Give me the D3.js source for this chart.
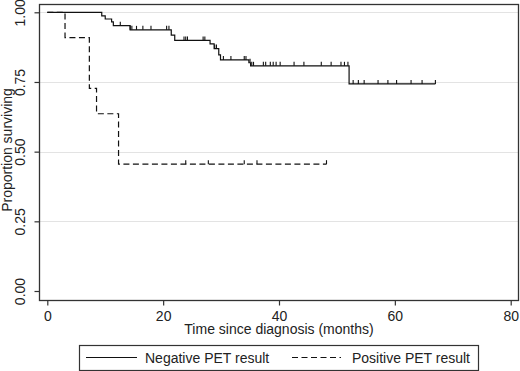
<!DOCTYPE html>
<html>
<head>
<meta charset="utf-8">
<script src="https://cdn.jsdelivr.net/npm/d3@7"></script>
<style>
  body { margin: 0; background: #fff; }
  text { font-family: "Liberation Sans", Arial, sans-serif; fill: #222; }
</style>
</head>
<body>
<div id="km"></div>
<script>
// Kaplan-Meier curves, values
var negTimes = [0, 9.4, 10.0, 11.1, 11.4, 14.3, 21.4, 22.0, 28.1, 28.8, 29.6, 29.9, 34.8, 35.1, 52.1]
var negSurv  = [1.0, 0.987, 0.976, 0.966, 0.952, 0.937, 0.918, 0.899, 0.887, 0.870, 0.847, 0.829, 0.819, 0.808, 0.743]
var negEnd = 67.0
var negCensor = [12.6, 14.3, 14.6, 15.4, 16.5, 17.9, 20.6, 21.0, 23.6, 23.9, 24.2, 26.9, 27.2, 28.9, 29.2,
    30.4, 31.7, 34.0, 34.3, 35.0, 35.3, 35.6, 37.3, 37.7, 38.5, 39.0, 39.5, 40.2, 42.6, 44.3, 47.3, 49.0,
    50.7, 51.3, 51.9, 52.8, 53.7, 54.7, 57.1, 58.8, 60.3, 62.8, 64.7, 67.0]

var posTimes = [0, 3.06, 7.26, 8.5, 12.3]
var posSurv  = [1.0, 0.909, 0.727, 0.636, 0.455]
var posEnd = 48.2
var posCensor = [23.9, 27.8, 34.0, 36.2, 48.2]

var xTicks = [0, 20, 40, 60, 80]
var yTicks = [0, 0.25, 0.5, 0.75, 1]
var gridTicks = [0.25, 0.5, 0.75, 1]
var legendLabels = ["Negative PET result", "Positive PET result"]

var width = 520, height = 371
var plot = {left: 39, right: 518, top: 4, bottom: 300}

var svg = d3.select("#km")
    .append("svg")
    .attr("width", width)
    .attr("height", height)

var x = d3.scaleLinear().domain([0, 80]).range([47.3, 510.7])
var y = d3.scaleLinear().domain([0, 1]).range([291, 12.3])

// gridlines
svg.selectAll("line.grid")
    .data(gridTicks)
    .enter()
    .append("line")
    .attr("class", "grid")
    .attr("x1", plot.left)
    .attr("x2", plot.right)
    .attr("y1", function(d) { return Math.round(y(d)) + 0.5 })
    .attr("y2", function(d) { return Math.round(y(d)) + 0.5 })
    .attr("stroke", "#e3e3e3")
    .attr("stroke-width", 1)

// plot region box
svg.append("rect")
    .attr("x", plot.left + 0.5)
    .attr("y", plot.top + 0.5)
    .attr("width", plot.right - plot.left)
    .attr("height", plot.bottom - plot.top)
    .attr("fill", "none")
    .attr("stroke", "#333")
    .attr("stroke-width", 1.3)

// axes
var xAxis = svg.append("g")
    .attr("transform", "translate(0," + (plot.bottom + 0.5) + ")")
    .call(d3.axisBottom(x).tickValues(xTicks).tickSize(5).tickPadding(6))
var yAxis = svg.append("g")
    .attr("transform", "translate(" + (plot.left + 0.5) + ",0)")
    .call(d3.axisLeft(y).tickValues(yTicks).tickSize(5).tickFormat(d3.format(".2f")))

xAxis.select(".domain").remove()
yAxis.select(".domain").remove()
svg.selectAll(".tick line").attr("stroke", "#333").attr("stroke-width", 1.2)
xAxis.selectAll("text").attr("font-size", 14).style("font-family", "Liberation Sans, Arial, sans-serif").attr("fill", "#222")
yAxis.selectAll("text")
    .attr("font-size", 14)
    .style("font-family", "Liberation Sans, Arial, sans-serif")
    .attr("fill", "#222")
    .attr("text-anchor", "middle")
    .attr("transform", "rotate(-90)")
    .attr("x", 0)
    .attr("y", -15)
    .attr("dy", 0)
    .attr("dx", 0)
yAxis.selectAll(".tick text").each(function() {
    // rotate about tick position
    d3.select(this).attr("transform", "rotate(-90)").attr("x", 0).attr("y", -14.5)
})

// axis titles
svg.append("text")
    .attr("x", 279)
    .attr("y", 333.5)
    .attr("text-anchor", "middle")
    .attr("font-size", 14)
    .text("Time since diagnosis (months)")
svg.append("text")
    .attr("transform", "translate(11.5,150) rotate(-90)")
    .attr("text-anchor", "middle")
    .attr("font-size", 14)
    .text("Proportion surviving")

// step curves
function stepPoints(times, surv, end) {
    var pts = times.map(function(t, i) { return [t, surv[i]] })
    pts.push([end, surv[surv.length - 1]])
    return pts
}
function survAt(times, surv, t) {
    var s = surv[0]
    for (var i = 0; i < times.length; i++) if (times[i] <= t) s = surv[i]
    return s
}
var line = d3.line()
    .x(function(d) { return x(d[0]) })
    .y(function(d) { return y(d[1]) })
    .curve(d3.curveStepAfter)

svg.append("path")
    .datum(stepPoints(negTimes, negSurv, negEnd))
    .attr("d", line)
    .attr("fill", "none")
    .attr("stroke", "#111")
    .attr("stroke-width", 1.2)

svg.append("path")
    .datum(stepPoints(posTimes, posSurv, posEnd))
    .attr("d", line)
    .attr("fill", "none")
    .attr("stroke", "#111")
    .attr("stroke-width", 1.2)
    .attr("stroke-dasharray", "6,3.5")

// censor ticks
svg.selectAll("line.cneg")
    .data(negCensor)
    .enter()
    .append("line")
    .attr("class", "cneg")
    .attr("x1", function(d) { return x(d) })
    .attr("x2", function(d) { return x(d) })
    .attr("y1", function(d) { return y(survAt(negTimes, negSurv, d)) })
    .attr("y2", function(d) { return y(survAt(negTimes, negSurv, d)) - 4 })
    .attr("stroke", "#111")
    .attr("stroke-width", 1.1)

svg.selectAll("line.cpos")
    .data(posCensor)
    .enter()
    .append("line")
    .attr("class", "cpos")
    .attr("x1", function(d) { return x(d) })
    .attr("x2", function(d) { return x(d) })
    .attr("y1", function(d) { return y(survAt(posTimes, posSurv, d)) })
    .attr("y2", function(d) { return y(survAt(posTimes, posSurv, d)) - 4 })
    .attr("stroke", "#111")
    .attr("stroke-width", 1.1)

// legend
var legend = svg.append("g")
legend.append("rect")
    .attr("x", 79.5)
    .attr("y", 345.5)
    .attr("width", 399)
    .attr("height", 25)
    .attr("fill", "none")
    .attr("stroke", "#333")
    .attr("stroke-width", 1.2)

var legendItems = [
    {x1: 86, x2: 137, tx: 145, dash: null},
    {x1: 292, x2: 341, tx: 352, dash: "6,3.5"}
]
legendItems.forEach(function(it, i) {
    legend.append("line")
        .attr("x1", it.x1).attr("x2", it.x2)
        .attr("y1", 357.5).attr("y2", 357.5)
        .attr("stroke", "#111")
        .attr("stroke-width", 1.2)
        .attr("stroke-dasharray", it.dash)
    legend.append("text")
        .attr("x", it.tx)
        .attr("y", 363)
        .attr("font-size", 14)
        .text(legendLabels[i])
})
</script>
</body>
</html>
